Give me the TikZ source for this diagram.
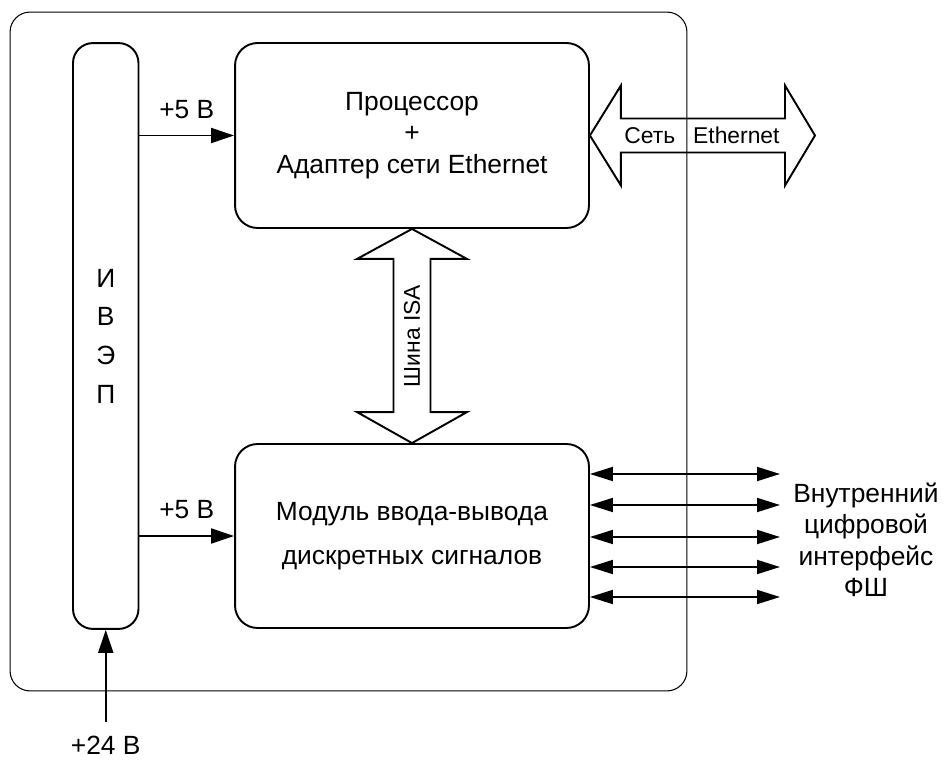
\documentclass[tikz,border=0pt]{standalone}
\usepackage{fontspec}
\setmainfont{Liberation Sans}
\usetikzlibrary{arrows.meta,calc,positioning}

\tikzset{
    blok/.style={draw, line width=1.1pt, rounded corners=0.45cm, align=center,
        font=\fontsize{15}{17.9}\selectfont},
    pitanie/.style={line width=1.1pt, -{Triangle[length=0.46cm,width=0.3cm]}},
    svyaz/.style={line width=1.1pt,
        {Triangle[length=0.46cm,width=0.28cm]}-{Triangle[length=0.46cm,width=0.28cm]}},
    shina/.style={line width=1.1pt, line join=miter},
    podpis/.style={font=\fontsize{15}{17.9}\selectfont},
    melko/.style={font=\fontsize{13}{15}\selectfont}
}

\begin{document}
\begin{tikzpicture}[x=0.02cm, y=-0.02cm]
            \useasboundingbox (0,0) rectangle (944,760);
            % корпус и блоки
            \node[draw, line width=0.6pt, rounded corners=0.4cm, minimum width=13.54cm, minimum height=13.58cm] (korpus) at (348.5,351.5) {};
            \node[blok, rounded corners=0.4cm, minimum width=1.31cm, minimum height=11.72cm, font=\fontsize{15}{22}\selectfont] (ivep) at (105.75,336) {И\\В\\Э\\П};
            \node[blok, minimum width=7.08cm, minimum height=3.7cm] (proc) at (412,135.5) {Процессор\\+\\Адаптер сети Ethernet};
            \node[blok, minimum width=7.08cm, minimum height=3.68cm, font=\fontsize{15}{25}\selectfont] (modul) at (412,536) {Модуль ввода-вывода\\дискретных сигналов};

            % питание
            \draw[pitanie] (ivep.east |- proc.west) -- node[podpis, above=0.2cm] {+5 В} (proc.west);
            \draw[pitanie] (ivep.east |- modul.west) -- node[podpis, above=0.2cm] {+5 В} (modul.west);
            \coordinate (vhod) at (105.75,722);
            \draw[pitanie] (vhod) -- (ivep.south);
            \node[podpis, below=0.16cm of vhod] (u24) {+24 В};

            % шина ISA
            \draw[shina] (proc.south) -- ++(55,30) -- ++(-36.5,0) -- ($(modul.north)+(18.5,-31)$) -- ++(36.5,0) -- (modul.north)
                -- ++(-55,-31) -- ++(36.5,0) -- ($(proc.south)+(-18.5,30)$) -- ++(-36.5,0) -- cycle;
            \node[melko, rotate=90] (isa) at ($(proc.south)!0.5!(modul.north)$) {Шина ISA};

            % сеть Ethernet
            \coordinate (set) at (815,135.5);
            \draw[shina] (proc.east) -- ++(31,-50) -- ++(0,33) -- ($(set)+(-30,-17)$) -- ++(0,-33) -- (set)
                -- ++(-30,50) -- ++(0,-33) -- ($(proc.east)+(31,17)$) -- ++(0,33) -- cycle;
            \node[melko] (eth) at (702,135.5) {Сеть\hspace{0.36cm}Ethernet};

            % цифровой интерфейс
            \foreach \yy [count=\i] in {474,505,537,567,597} {
                \coordinate (io\i) at (780,\yy);
                \draw[svyaz] (modul.east |- io\i) -- (io\i);
            }
            \node[podpis, align=center] (fsh) at (866,540) {Внутренний\\цифровой\\интерфейс\\ФШ};
        \end{tikzpicture}
\end{document}
